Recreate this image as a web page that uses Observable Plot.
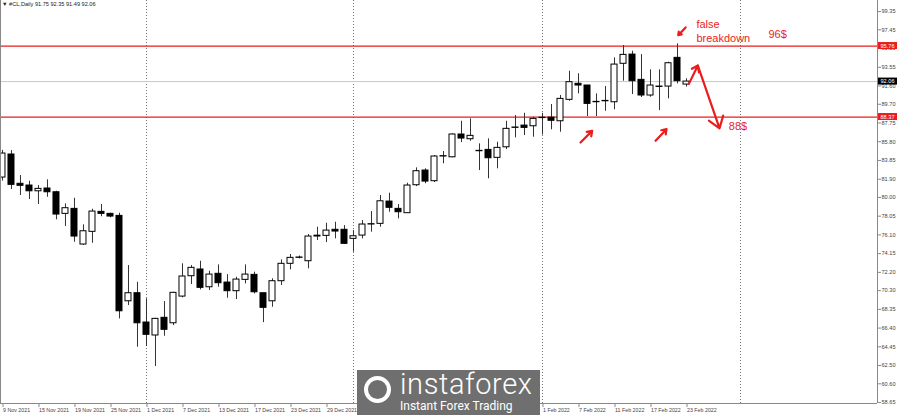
<!DOCTYPE html>
<html><head><meta charset="utf-8">
<script src="https://cdn.jsdelivr.net/npm/d3@7"></script>
<script src="https://cdn.jsdelivr.net/npm/@observablehq/plot@0.6"></script>
<style>
body{margin:0;background:#fff;}
#wrap{position:relative;width:900px;height:415px;overflow:hidden;font-family:"Liberation Sans",Arial,sans-serif;}
#title{position:absolute;left:2px;top:1px;font-size:5.6px;color:#222;white-space:nowrap;}
#wm{position:absolute;left:357px;top:370px;width:183px;height:45px;background:#6f6f6f;color:#fff;}
#wm .big{position:absolute;left:43px;top:2px;font-size:29px;line-height:24px;font-family:Roboto,"Open Sans",sans-serif;font-weight:300;letter-spacing:0.6px;}
#wm .small{position:absolute;left:43px;top:31px;font-size:12px;line-height:11px;font-family:Roboto,"Open Sans",sans-serif;}
#wm .icon{position:absolute;left:7px;top:6px;width:27px;height:27px;border:4px solid #fff;border-radius:50%;box-sizing:border-box;}
</style></head><body>
<div id="wrap"><div id="title">▼ #CL,Daily 91.75 92.35 91.49 92.06</div></div>
<script>
// ---- data ----
const tickLabels = ["9 Nov 2021","15 Nov 2021","19 Nov 2021","25 Nov 2021","1 Dec 2021","7 Dec 2021","13 Dec 2021","17 Dec 2021","23 Dec 2021","29 Dec 2021","1 Feb 2022","7 Feb 2022","11 Feb 2022","17 Feb 2022","23 Feb 2022"];
const tickBars = [0,4,8,12,16,20,24,28,32,36,60,64,68,72,76];
const yTicks = [99.35,97.45,95.50,93.55,91.60,89.70,87.75,85.80,83.85,81.90,80.00,78.05,76.10,74.15,72.20,70.30,68.35,66.40,64.45,62.50,60.60,58.65];
const separators = [16,39,60,82];

const openP  = [82.07,84.47,81.42,81.24,80.64,80.93,80.54,78.29,78.81,75.10,76.42,78.50,78.29,78.08,69.19,70.03,66.98,65.63,67.47,66.90,69.68,71.80,72.50,70.65,72.05,71.14,70.24,71.42,71.94,70.03,69.19,71.28,73.09,73.71,73.36,75.93,76.00,76.63,76.63,75.69,76.03,77.18,77.25,79.57,78.81,78.36,81.27,82.80,81.69,84.26,84.18,86.55,86.06,84.81,84.95,84.12,85.22,87.24,87.48,87.41,88.26,88.31,87.93,90.16,91.83,91.65,89.95,90.01,89.91,93.91,94.87,92.24,90.61,91.50,91.54,94.53,91.75];
const highP  = [84.90,84.88,82.28,81.69,81.24,81.83,80.64,79.33,79.92,77.15,78.77,79.26,78.36,78.36,72.91,71.17,69.45,67.42,69.16,70.13,73.09,72.91,73.36,72.32,72.98,71.97,71.69,72.98,72.22,70.03,71.53,73.50,74.06,73.90,76.14,76.90,77.31,77.42,77.07,76.55,77.59,78.53,80.20,80.44,79.26,81.48,83.08,82.98,84.36,84.78,86.62,87.93,88.18,85.58,86.10,85.75,87.93,88.52,88.76,88.35,88.76,89.67,90.61,93.14,92.87,91.65,90.78,91.54,94.53,95.81,95.22,94.87,93.28,93.28,94.07,95.99,92.35];
const lowP   = [81.70,80.82,80.20,79.78,79.26,80.02,77.67,76.97,75.33,75.00,75.23,77.99,77.88,67.36,68.75,64.41,64.48,62.40,65.55,66.66,69.55,70.93,70.38,70.31,70.65,69.51,69.37,71.00,69.96,66.97,68.57,70.83,72.46,73.60,72.57,75.51,75.30,75.69,75.10,74.30,75.69,76.38,76.90,78.46,77.77,78.36,81.13,81.42,81.55,83.50,84.12,85.71,85.85,82.80,81.94,82.98,84.98,86.20,86.44,86.27,86.50,87.04,86.79,90.01,90.78,88.42,88.42,88.97,89.12,92.10,90.71,90.40,90.43,89.04,90.26,91.82,91.49];
const closeP = [84.57,81.31,81.21,80.64,80.89,80.54,78.22,78.88,75.93,76.48,78.53,78.29,78.01,68.15,70.03,66.90,65.70,67.36,66.22,70.07,71.77,72.67,70.59,71.97,71.07,70.24,71.45,71.97,70.13,68.51,71.28,73.09,73.71,73.75,75.93,76.02,76.55,76.45,75.17,75.96,77.18,77.22,79.60,78.92,78.46,81.24,82.73,81.65,84.26,84.30,86.55,86.13,86.41,84.85,84.08,85.16,87.14,87.28,87.24,88.18,88.30,87.98,90.26,92.00,91.65,89.74,89.91,90.05,93.83,94.84,92.10,90.61,91.65,91.54,93.97,92.10,92.06];

const levelValues = [95.76, 88.37];
const currentPrice = 92.06;

// annotation arrows: [bar, price] -> [bar, price]
const arrowFrom = [[75.90,97.70],[64.22,85.71],[72.56,85.90],[76.26,91.82],[77.26,93.73]];
const arrowTo   = [[75.08,96.89],[65.52,86.93],[73.78,87.11],[77.26,93.73],[79.67,87.19]];
const noteTexts = ["false","breakdown","96$","88$"];
const noteBars  = [77.1, 77.1, 85.1, 80.7];
const notePrices= [98.00, 96.54, 96.96, 87.38];

// ---- build ----
const candles = openP.map((o,i)=>({i, open:o, high:highP[i], low:lowP[i], close:closeP[i]}));
const arrows = arrowFrom.map((f,k)=>({x1:f[0],y1:f[1],x2:arrowTo[k][0],y2:arrowTo[k][1]}));
const notes = noteTexts.map((t,k)=>({t, x:noteBars[k], y:notePrices[k]}));
const tickMap = new Map(tickBars.map((b,k)=>[b,tickLabels[k]]));
const xMax = 97.22, xMin = -0.22;
const RED = "#ea1d1d";
const tags = [
  {v: levelValues[0], c: RED},
  {v: levelValues[1], c: RED},
  {v: currentPrice, c: "#000"}
];

const chart = Plot.plot({
  width: 900, height: 415,
  marginLeft: 0, marginRight: 23, marginTop: 0, marginBottom: 12,
  style: {fontFamily: "'Liberation Sans', Arial, sans-serif", background: "#fff"},
  x: {domain: [xMin, xMax], axis: null},
  y: {domain: [58.55, 100.5], axis: null},
  marks: [
    Plot.ruleX(separators, {stroke: "#777", strokeDasharray: "1,2"}),
    Plot.ruleY([currentPrice], {stroke: "#c8c8c8"}),
    Plot.ruleY(levelValues, {stroke: RED, strokeWidth: 1.3}),
    Plot.ruleX(candles, {x: "i", y1: "low", y2: "high", stroke: "#333"}),
    Plot.rect(candles, {x1: d => d.i - 1/3, x2: d => d.i + 1/3, y1: "open", y2: "close",
      fill: d => d.close >= d.open ? "#fff" : "#000", stroke: "#000"}),
    Plot.arrow(arrows, {x1: "x1", y1: "y1", x2: "x2", y2: "y2", stroke: RED, strokeWidth: 2.2, headLength: 9, headAngle: 70}),
    Plot.text(notes, {x: "x", y: "y", text: "t", textAnchor: "start", fill: RED, fontSize: 11}),
    // frame
    Plot.ruleX([xMin], {stroke: "#888"}),
    Plot.ruleX([xMax], {stroke: "#888"}),
    Plot.ruleY([58.55], {stroke: "#888"}),
    Plot.axisY(yTicks, {anchor: "right", tickSize: 3, tickPadding: 1, tickFormat: d => d.toFixed(2),
      fontSize: 5.6, textAnchor: "start", label: null, stroke: "#888", fill: "#444"}),
    Plot.axisX(tickBars, {anchor: "bottom", tickSize: 4, tickPadding: 1, tickFormat: d => tickMap.get(d),
      fontSize: 5.3, textAnchor: "start", dx: 0.5, label: null, stroke: "#888", fill: "#444"}),
    Plot.rect(tags, {x1: xMax, x2: xMax, y1: "v", y2: "v", insetTop: -3.5, insetBottom: -3.5,
      insetLeft: 1, insetRight: -20, fill: "c"}),
    Plot.text(tags, {x: xMax, y: "v", text: d => d.v.toFixed(2), dx: 3, textAnchor: "start", fill: "#fff", fontSize: 5.6})
  ]
});
const wrap = document.getElementById("wrap");
wrap.insertBefore(chart, wrap.firstChild);
chart.style.position = "absolute"; chart.style.left = "0"; chart.style.top = "0";
const wm = document.createElement("div");
wm.id = "wm";
wm.innerHTML = '<div class="icon"></div><div class="big">instaforex</div><div class="small">Instant Forex Trading</div>';
wrap.appendChild(wm);
</script>
</body></html>
